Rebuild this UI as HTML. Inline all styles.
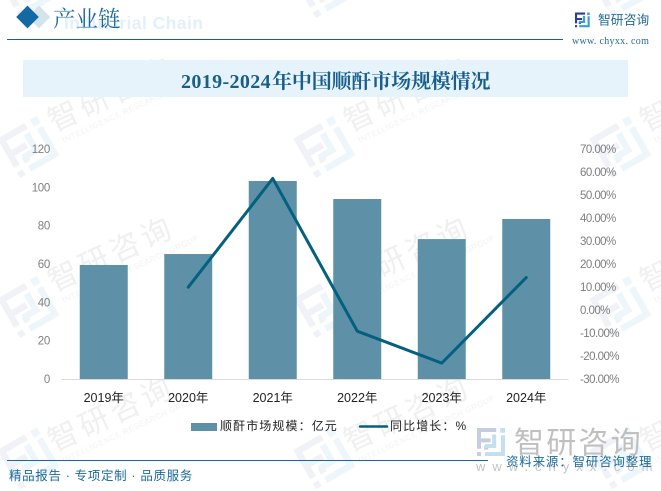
<!DOCTYPE html>
<html>
<head>
<meta charset="utf-8">
<style>
html,body{margin:0;padding:0;background:#fff;width:661px;height:491px;overflow:hidden;}
#page{position:relative;width:661px;height:491px;overflow:hidden;background:#fff;font-family:"Liberation Sans","Noto Sans CJK SC",sans-serif;}
svg{position:absolute;left:0;top:0;}
text{font-family:"Liberation Sans","Noto Sans CJK SC",sans-serif;}
text.serif{font-family:"Liberation Serif","Noto Serif CJK SC",serif;}
</style>
</head>
<body>
<div id="page">
<svg id="svg" width="661" height="491" viewBox="0 0 661 491" xmlns="http://www.w3.org/2000/svg">
  <defs>
    <g id="wm-logo">
      <path d="M0 0H24V5H5V13H17V18H5V26H0Z M0 30H5V35H0Z M9 22H14V27H9Z" fill="#f0f2f7"/>
      <path d="M29 0H35V6H29Z M30 9H35V35H10V30H30Z M19 8H24V25H10V20H19Z" fill="#edf6fb"/>
    </g>
  </defs>
  <g id="watermarks"></g>

  <g>
    <rect x="31" y="9" width="16" height="16" transform="rotate(45 39 17)" fill="#d4e4ec"/>
    <rect x="19.500" y="9" width="16" height="16" transform="rotate(45 27.500 17)" fill="#1369a4"/>
    <text x="64" y="29" font-size="17.500" font-weight="700" fill="#e3f0fa" style="letter-spacing:.45px">Industrial Chain</text>
    <text x="53" y="27" font-size="22.500" fill="#1f6a99" class="serif">产业链</text>
    <line x1="7" y1="39.500" x2="563" y2="39.500" stroke="#1b5f8c" stroke-width="1"/>
    <g transform="translate(575,12.500) scale(.42)">
      <path d="M0 0H24V5H5V13H17V18H5V26H0Z M0 30H5V35H0Z M9 22H14V27H9Z" fill="#2b3f8f"/>
      <path d="M29 0H35V6H29Z M30 9H35V35H10V30H30Z M19 8H24V25H10V20H19Z" fill="#3a9bd5"/>
    </g>
    <text x="598" y="24.500" font-size="12.800" fill="#1f6a99">智研咨询</text>
    <text x="572" y="44" font-size="10" fill="#2f6a8f" class="serif" style="letter-spacing:.3px">www. chyxx. com</text>
  </g>

  <rect x="23" y="60" width="605" height="37" fill="#e6f3fb"/>
  <text x="181" y="88" font-size="20" font-weight="700" fill="#1a5f8c" class="serif"><tspan style="letter-spacing:.37px">2019-2024</tspan><tspan x="272" style="letter-spacing:-.15px">年中国顺酐市场规模情况</tspan></text>

  <g id="chart"></g>

  <g>
    <g>
      <rect x="191" y="423" width="26" height="8" fill="#5e90a8"/>
      <text x="220" y="430" font-size="12" fill="#222" style="letter-spacing:1.1px">顺酐市场规模：亿元</text>
    </g>
    <g>
      <line x1="360" y1="426.500" x2="387" y2="426.500" stroke="#04607f" stroke-width="2.500" stroke-linecap="round"/>
      <text x="390" y="430" font-size="12" fill="#222" style="letter-spacing:1.1px">同比增长：%</text>
    </g>
  </g>

  <g>
    <g transform="translate(477,428) scale(.8)">
      <path d="M0 0H24V5H5V13H17V18H5V26H0Z M0 30H5V35H0Z M9 22H14V27H9Z" fill="#c4cee0"/>
      <path d="M29 0H35V6H29Z M30 9H35V35H10V30H30Z M19 8H24V25H10V20H19Z" fill="#c2e0f2"/>
    </g>
    <text x="514" y="453" font-size="30" fill="#c0c0c0" style="letter-spacing:2.200px">智研咨询</text>
    <text x="476" y="471" font-size="13" fill="#c4c4c4" style="letter-spacing:7px">www.chyxx.com</text>
  </g>

  <g>
    <line x1="7" y1="460.500" x2="488" y2="460.500" stroke="#1b6a9c" stroke-width="1"/>
    <text x="9" y="480" font-size="12.500" fill="#1a6a9c" style="letter-spacing:.65px">精品报告 · 专项定制 · 品质服务</text>
    <text x="506" y="466" font-size="12.500" fill="#1a6a9c" style="letter-spacing:.8px">资料来源：智研咨询整理</text>
  </g>
</svg>
</div>
<script>
var categories = ["2019年","2020年","2021年","2022年","2023年","2024年"];
var marketSize = [59.5,65.2,103.3,93.9,73,83.5];
var growthRate = [null,9.9,57.2,-9.2,-23.1,14.1];
var leftTicks = [0,20,40,60,80,100,120];
var rightTicks = [-30,-20,-10,0,10,20,30,40,50,60,70];

var NS = 'http://www.w3.org/2000/svg';
var plotLeft = 61.5, plotRight = 568.5, plotBottom = 379, plotTop = 149;
function xCenter(i){ return plotLeft + (plotRight - plotLeft) * (i + 0.5) / categories.length; }
function yLeft(v){ return plotBottom - (v - 0) / 120 * (plotBottom - plotTop); }
function yRight(v){ return plotBottom - (v + 30) / 100 * (plotBottom - plotTop); }
function make(tag, attrs, parent, txt){
  var el = document.createElementNS(NS, tag);
  for (var k in attrs) el.setAttribute(k, attrs[k]);
  if (txt !== undefined) el.textContent = txt;
  parent.appendChild(el);
  return el;
}
var chart = document.getElementById('chart');

leftTicks.forEach(function(t){
  var el = make('text', {x:50,y:yLeft(t)+4,'font-size':11.5,fill:'#7f7f7f','text-anchor':'end','letter-spacing':'-.3px'}, chart, String(t));
  
  
});
rightTicks.forEach(function(t){
  var el = make('text', {x:580,y:yRight(t)+4,'font-size':11.5,fill:'#7f7f7f','letter-spacing':'-.55px'}, chart, t.toFixed(2)+'%');
  
  
});

var barWidth = 48;
marketSize.forEach(function(v,i){
  var el = make('rect', {x:xCenter(i)-barWidth/2,y:yLeft(v),width:barWidth,height:plotBottom-yLeft(v),fill:'#5e90a8'}, chart);
  
  
});

var axisLine = make('line', {x1:plotLeft,y1:plotBottom+0.5,x2:plotRight,y2:plotBottom+0.5,stroke:'#d9d9d9','stroke-width':1}, chart);



categories.forEach(function(c,i){
  var el = make('text', {x:xCenter(i),y:402,'font-size':12.5,fill:'#222','text-anchor':'middle'}, chart, c);
  
  
});

var pts = [];
growthRate.forEach(function(v,i){ if (v !== null) pts.push(xCenter(i)+','+yRight(v)); });
var growthLine = make('polyline', {points:pts.join(' '),fill:'none',stroke:'#04607f','stroke-width':3,'stroke-linejoin':'round','stroke-linecap':'round'}, chart);



var wm = document.getElementById('watermarks');
[-28,132,292,452].forEach(function(ty){
  [0,296,592].forEach(function(tx){
    var logoY = Math.min(ty + 6.7, 450);
    var logo = make('use', {href:'#wm-logo',transform:'translate('+(tx-2.7)+','+logoY+') rotate(-30) scale(1.3)'}, wm);
    
    
    var t1 = make('text', {transform:'translate('+(tx+54)+','+ty+') rotate(-25)','font-size':30,fill:'#f0f0f0','letter-spacing':'4px'}, wm, '智研咨询');
    
    
    var t2 = make('text', {transform:'translate('+(tx+64)+','+(ty+11)+') rotate(-25)','font-size':8,fill:'#f2f2f2','letter-spacing':'.5px'}, wm, 'INTELLIGENCE RESEARCH GROUP');
    
    
  });
});
</script>
</body>
</html>
